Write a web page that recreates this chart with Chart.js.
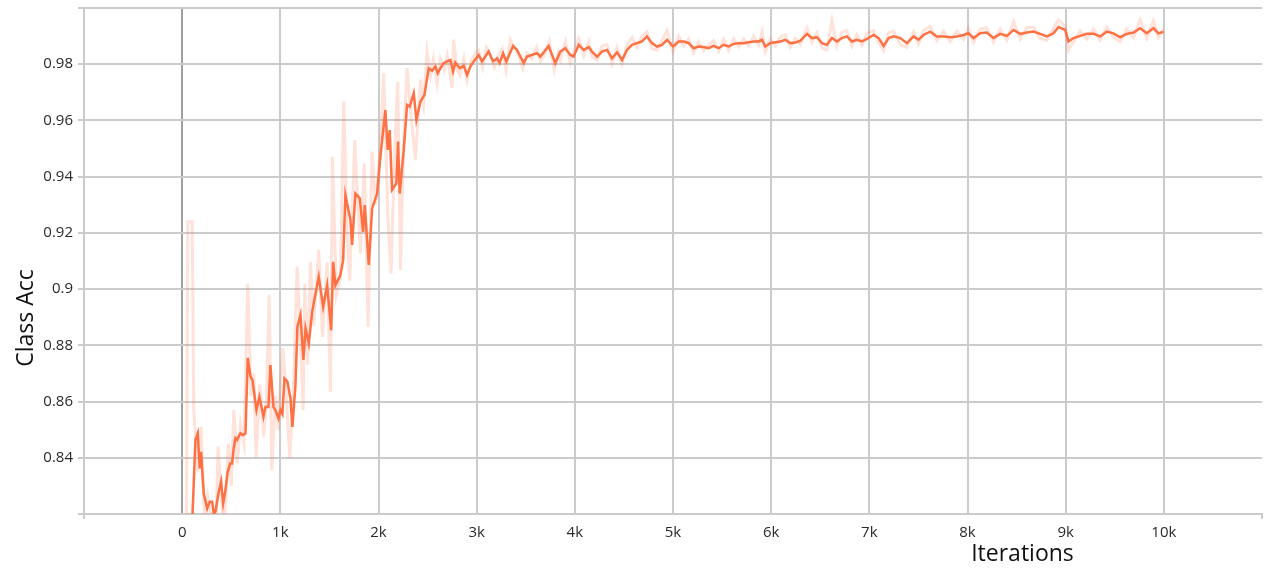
<!DOCTYPE html>
<html>
<head>
<meta charset="utf-8">
<script src="https://cdn.jsdelivr.net/npm/chart.js@4/dist/chart.umd.min.js"></script>
<style>
html,body{margin:0;padding:0;background:#fff;}
#wrap{width:1266px;height:570px;}
</style>
</head>
<body>
<div id="wrap"><canvas id="c" width="1266" height="570"></canvas></div>
<script>
// ---- Data ----
const xTickLabels = ['0','1k','2k','3k','4k','5k','6k','7k','8k','9k','10k'];
const yTickLabels = ['0.84','0.86','0.88','0.9','0.92','0.94','0.96','0.98'];
const xTitle = 'Iterations';
const yTitle = 'Class Acc';

// smoothed series
const smoothIters = [100,135,159,179,193,204,220,255,281,305,322,339,373,397,418,441,464,489,509,525,543,560,576,594,621,645,668,696,716,757,787,828,848,879,899,930,950,981,1001,1021,1042,1072,1103,1123,1154,1174,1205,1235,1257,1290,1324,1391,1436,1477,1518,1538,1561,1612,1640,1663,1714,1731,1765,1809,1843,1860,1901,1935,1986,2019,2070,2094,2114,2138,2182,2199,2216,2257,2291,2318,2359,2386,2427,2468,2512,2546,2580,2603,2631,2664,2699,2732,2760,2783,2827,2868,2902,2936,2970,3020,3055,3122,3167,3208,3234,3269,3302,3371,3411,3479,3513,3615,3649,3733,3801,3852,3903,3954,3988,4039,4091,4142,4175,4226,4277,4328,4379,4430,4481,4532,4582,4633,4684,4735,4786,4837,4888,4939,5000,5058,5109,5160,5210,5261,5312,5363,5414,5465,5516,5567,5618,5669,5720,5771,5822,5873,5907,5940,5991,6042,6093,6144,6195,6246,6297,6365,6416,6467,6518,6568,6619,6670,6721,6772,6823,6874,6925,6976,7044,7095,7146,7197,7248,7315,7383,7451,7501,7552,7620,7688,7756,7824,7892,7959,8010,8061,8129,8197,8265,8333,8401,8469,8537,8604,8672,8740,8808,8876,8927,8995,9029,9080,9148,9216,9284,9351,9419,9487,9555,9623,9691,9759,9826,9894,9945,9996];
const smoothValues = [0.815,0.8463,0.8487,0.8362,0.8421,0.8356,0.8273,0.822,0.8244,0.8244,0.8202,0.8208,0.828,0.8315,0.8238,0.8285,0.835,0.838,0.838,0.8434,0.847,0.8464,0.8476,0.8487,0.8481,0.8487,0.8755,0.8689,0.8676,0.857,0.8617,0.8546,0.8581,0.8581,0.873,0.858,0.857,0.854,0.857,0.8556,0.8682,0.8671,0.8611,0.851,0.8659,0.8866,0.8908,0.8748,0.886,0.8807,0.8919,0.9044,0.8937,0.9014,0.8854,0.9097,0.9014,0.905,0.9103,0.9335,0.9246,0.9157,0.934,0.9323,0.9204,0.9299,0.9086,0.9287,0.934,0.9471,0.9637,0.9495,0.9566,0.9353,0.9376,0.9525,0.934,0.9495,0.9655,0.9649,0.9697,0.9602,0.9667,0.9691,0.9786,0.9777,0.9792,0.9768,0.9786,0.9804,0.981,0.9815,0.9774,0.9806,0.9786,0.9794,0.9762,0.9792,0.981,0.9833,0.981,0.9845,0.981,0.9821,0.9804,0.9839,0.981,0.9865,0.9851,0.9804,0.9827,0.9839,0.9827,0.9865,0.9804,0.9845,0.9857,0.9833,0.9827,0.9869,0.9851,0.9861,0.9845,0.9827,0.9845,0.9851,0.9821,0.9842,0.9815,0.9851,0.9869,0.9875,0.9881,0.9899,0.9875,0.9863,0.9869,0.9887,0.9863,0.9881,0.9881,0.9875,0.9857,0.9863,0.9861,0.9857,0.9865,0.9857,0.9869,0.9863,0.9872,0.9875,0.9875,0.9878,0.9881,0.9881,0.9887,0.9863,0.9875,0.9878,0.9881,0.9887,0.9875,0.9877,0.9884,0.9908,0.9893,0.9896,0.9875,0.9869,0.9893,0.9881,0.9893,0.9899,0.9881,0.9887,0.9881,0.989,0.9904,0.9893,0.9865,0.9893,0.9899,0.9893,0.9875,0.9899,0.9887,0.9904,0.9916,0.9899,0.9899,0.9896,0.9899,0.9904,0.991,0.9893,0.991,0.9913,0.9893,0.9908,0.9901,0.9922,0.9908,0.9913,0.9916,0.9908,0.9899,0.991,0.9932,0.9922,0.9881,0.9893,0.9901,0.9908,0.9908,0.9899,0.9916,0.991,0.9896,0.9908,0.9913,0.9928,0.991,0.9928,0.991,0.9915];

// raw series
const rawIters = [30,57,102,118,160,193,230,260,300,340,366,400,430,471,500,526,560,594,630,668,700,730,753,790,831,860,886,913,950,980,1001,1028,1060,1096,1130,1171,1200,1232,1249,1280,1306,1340,1391,1429,1477,1510,1531,1570,1612,1646,1680,1707,1758,1790,1816,1856,1894,1935,1970,2019,2053,2094,2128,2160,2196,2223,2260,2291,2330,2376,2427,2460,2495,2530,2560,2597,2630,2670,2700,2749,2766,2800,2830,2870,2902,2940,2987,3020,3060,3100,3140,3180,3220,3260,3300,3343,3380,3420,3470,3510,3560,3610,3650,3700,3740,3790,3830,3852,3903,3954,3988,4039,4091,4142,4175,4226,4277,4328,4379,4430,4481,4532,4582,4633,4684,4735,4786,4837,4888,4939,5000,5058,5109,5160,5210,5261,5312,5363,5414,5465,5516,5567,5618,5669,5720,5771,5822,5873,5907,5940,5991,6042,6093,6144,6195,6246,6297,6365,6416,6467,6518,6568,6619,6670,6721,6772,6823,6874,6925,6976,7044,7095,7146,7197,7248,7315,7383,7451,7501,7552,7620,7688,7756,7824,7892,7959,8010,8061,8129,8197,8265,8333,8401,8469,8537,8604,8672,8740,8808,8876,8927,8995,9029,9080,9148,9216,9284,9351,9419,9487,9555,9623,9691,9759,9826,9894,9945,9996];
const rawValues = [0.70,0.924,0.924,0.857,0.835,0.851,0.815,0.826,0.818,0.812,0.844,0.825,0.815,0.845,0.83,0.857,0.838,0.852,0.845,0.902,0.862,0.87,0.84,0.866,0.8475,0.862,0.898,0.8356,0.862,0.85,0.866,0.879,0.862,0.84,0.862,0.908,0.886,0.857,0.902,0.873,0.9097,0.887,0.914,0.883,0.9094,0.8635,0.947,0.898,0.904,0.9667,0.92,0.903,0.953,0.93,0.9128,0.9447,0.8866,0.9489,0.93,0.95,0.9768,0.927,0.9056,0.945,0.9738,0.9068,0.955,0.9786,0.962,0.946,0.9744,0.966,0.9845,0.976,0.982,0.9732,0.982,0.978,0.983,0.9715,0.9887,0.978,0.976,0.982,0.9744,0.981,0.9839,0.985,0.979,0.986,0.983,0.979,0.983,0.9855,0.978,0.9887,0.986,0.984,0.9785,0.984,0.982,0.986,0.981,0.984,0.988,0.978,0.984,0.9815,0.988,0.9805,0.9845,0.989,0.983,0.988,0.9825,0.9815,0.9865,0.987,0.98,0.986,0.98,0.987,0.9895,0.986,0.99,0.9915,0.9855,0.985,0.9885,0.992,0.9845,0.99,0.9865,0.989,0.984,0.988,0.9848,0.987,0.9885,0.9845,0.9888,0.985,0.989,0.9862,0.989,0.9865,0.99,0.9868,0.9915,0.9845,0.989,0.9865,0.9898,0.9905,0.986,0.9892,0.987,0.9928,0.9878,0.9912,0.9858,0.985,0.9955,0.9865,0.9915,0.992,0.9865,0.9905,0.9868,0.991,0.992,0.9878,0.9848,0.9912,0.9918,0.987,0.986,0.9915,0.9872,0.992,0.9935,0.9885,0.9918,0.988,0.9918,0.9888,0.9928,0.9878,0.9925,0.993,0.9878,0.9925,0.9885,0.9952,0.989,0.993,0.9932,0.9892,0.9885,0.9928,0.9958,0.9935,0.9851,0.988,0.9918,0.989,0.9925,0.9885,0.9932,0.9895,0.988,0.9925,0.9895,0.9958,0.9892,0.9955,0.9895,0.9925];

// ---- Chart ----
const FONT = '"Open Sans", "DejaVu Sans", sans-serif';
const GRID = '#cbcbcb';
const ZERO = '#a0a0a0';

const toPts = (xs, ys) => xs.map((x, i) => ({x: x, y: ys[i]}));

const titlePlugin = {
  id: 'axisTitles',
  afterDraw(chart) {
    const ctx = chart.ctx;
    ctx.save();
    ctx.fillStyle = '#111';
    ctx.font = '23px ' + FONT;
    ctx.textAlign = 'center';
    ctx.textBaseline = 'alphabetic';
    const xs = chart.scales.x;
    ctx.fillText(xTitle, xs.getPixelForValue(8560), 561);
    ctx.translate(33, 318);
    ctx.rotate(-Math.PI / 2);
    ctx.fillText(yTitle, 0, 0);
    ctx.restore();
  }
};

new Chart(document.getElementById('c'), {
  type: 'line',
  data: {
    datasets: [
      {
        label: 'smoothed',
        data: toPts(smoothIters, smoothValues),
        borderColor: '#ff7043',
        borderWidth: 2.5,
        pointRadius: 0,
        tension: 0,
        fill: false,
        order: 1
      },
      {
        label: 'raw',
        data: toPts(rawIters, rawValues),
        borderColor: 'rgba(255,112,67,0.2)',
        borderWidth: 3,
        pointRadius: 0,
        tension: 0,
        fill: false,
        order: 2
      }
    ]
  },
  options: {
    responsive: false,
    animation: false,
    devicePixelRatio: 1,
    layout: {padding: {top: 8, right: 4, left: 0, bottom: 0}},
    plugins: {legend: {display: false}, tooltip: {enabled: false}},
    scales: {
      x: {
        type: 'linear',
        min: -1000,
        max: 11000,
        afterFit: s => { s.height = 56; s.paddingLeft = 0; s.paddingRight = 0; },
        border: {color: GRID, width: 2},
        grid: {
          lineWidth: 2,
          color: c => (c.tick && c.tick.value === 0) ? ZERO : ((c.tick && c.tick.value === 11000) ? 'rgba(0,0,0,0)' : GRID),
          tickColor: c => (c.tick && (c.tick.value === -1000 || c.tick.value === 11000)) ? GRID : 'rgba(0,0,0,0)',
          tickLength: 5
        },
        ticks: {
          stepSize: 1000,
          autoSkip: false,
          maxRotation: 0,
          padding: 5,
          color: '#2a2a2a',
          font: {family: FONT, size: 15},
          callback: v => {
            const i = Math.round(v / 1000);
            return (i >= 0 && i < xTickLabels.length) ? xTickLabels[i] : '';
          }
        }
      },
      y: {
        type: 'linear',
        min: 0.82,
        max: 1.0,
        afterFit: s => { s.width = 84; s.paddingTop = 0; s.paddingBottom = 0; },
        border: {color: GRID, width: 2},
        grid: {lineWidth: 2, color: GRID, tickColor: GRID, tickLength: 6},
        ticks: {
          stepSize: 0.02,
          autoSkip: false,
          padding: 5,
          color: '#2a2a2a',
          font: {family: FONT, size: 15},
          callback: v => {
            const i = Math.round((v - 0.84) / 0.02);
            return (i >= 0 && i < yTickLabels.length) ? yTickLabels[i] : '';
          }
        }
      }
    }
  },
  plugins: [titlePlugin]
});
</script>
</body>
</html>
